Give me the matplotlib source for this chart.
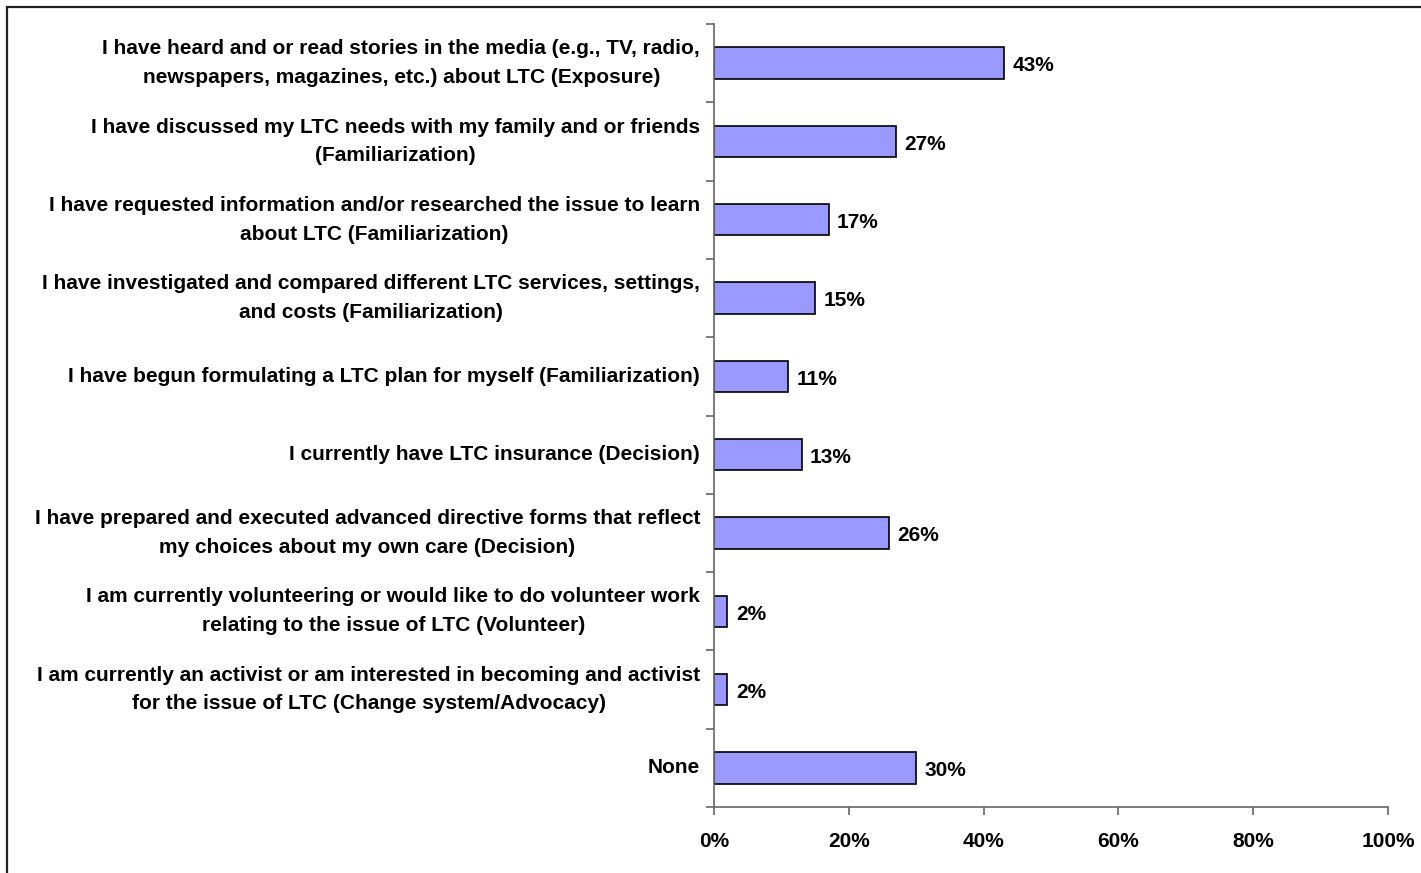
import numpy as np
import matplotlib.pyplot as plt
from matplotlib.patches import Rectangle

plt.rcParams['font.family'] = ['Liberation Sans', 'DejaVu Sans']
plt.rcParams['font.weight'] = 'bold'

labels = [
    "I have heard and or read stories in the media (e.g., TV, radio,\nnewspapers, magazines, etc.) about LTC (Exposure)",
    "I have discussed my LTC needs with my family and or friends\n(Familiarization)",
    "I have requested information and/or researched the issue to learn\nabout LTC (Familiarization)",
    "I have investigated and compared different LTC services, settings,\nand costs (Familiarization)",
    "I have begun formulating a LTC plan for myself (Familiarization)",
    "I currently have LTC insurance (Decision)",
    "I have prepared and executed advanced directive forms that reflect\nmy choices about my own care (Decision)",
    "I am currently volunteering or would like to do volunteer work\nrelating to the issue of LTC (Volunteer)",
    "I am currently an activist or am interested in becoming and activist\nfor the issue of LTC (Change system/Advocacy)",
    "None",
]
values = [43, 27, 17, 15, 11, 13, 26, 2, 2, 30]
xticks = [0, 20, 40, 60, 80, 100]

fig = plt.figure(figsize=(14.21, 8.73), dpi=100)
W, H = 1421, 873
ax = fig.add_axes([714 / W, 1 - 807 / H, (1388 - 714) / W, (807 - 24) / H])

# outer frame of the chart area
fig.patches.append(Rectangle((7 / W, -0.1), 1.2, 1 - 7 / H + 0.1, transform=fig.transFigure,
                             fill=False, edgecolor='#222222', linewidth=1.6))

y = np.arange(len(values))
ax.barh(y, values, height=0.4, color='#9999FF', edgecolor='black', linewidth=1.2)
for yi, v in zip(y, values):
    ax.annotate(f"{v}%", (v, yi), xytext=(6, -2), textcoords='offset points',
                va='center', ha='left', fontsize=15, fontweight='bold')

ax.set_ylim(len(values) - 0.5, -0.5)
ax.set_xlim(0, 100)
ax.set_yticks(y)
ax.set_yticklabels(labels, fontsize=15, fontweight='bold', linespacing=1.65)
for lab in ax.get_yticklabels():
    lab.set_multialignment('center')
    lab.set_verticalalignment('center')
ax.set_yticks(np.arange(len(values) + 1) - 0.5, minor=True)
ax.tick_params(axis='y', which='major', length=0, pad=10)
ax.tick_params(axis='y', which='minor', length=6, color='#666666', width=1.2)

ax.set_xticks(xticks)
ax.set_xticklabels([f"{t}%" for t in xticks], fontsize=15, fontweight='bold')
ax.tick_params(axis='x', length=6, color='#666666', width=1.2, pad=12)

for s in ['top', 'right']:
    ax.spines[s].set_visible(False)
for s in ['left', 'bottom']:
    ax.spines[s].set_color('#666666')
    ax.spines[s].set_linewidth(1.2)

fig.savefig('out.png', dpi=100)
